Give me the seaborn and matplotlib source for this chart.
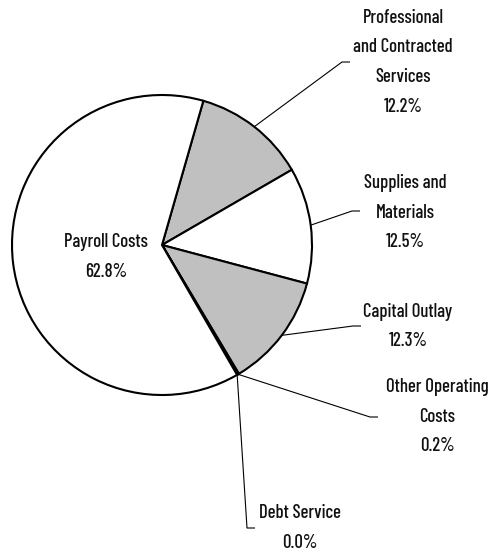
import matplotlib
matplotlib.use("Agg")
import matplotlib.pyplot as plt
import numpy as np
import seaborn as sns

# Expenditure shares (percent), clockwise from the top
categories = ["Professional\nand Contracted\nServices", "Supplies and\nMaterials",
              "Capital Outlay", "Other Operating\nCosts", "Debt Service", "Payroll Costs"]
shares = [12.2, 12.5, 12.3, 0.2, 0.0, 62.8]
fills = ["#c0c0c0", "#ffffff", "#c0c0c0", "#ffffff", "#ffffff", "#ffffff"]

sns.set_theme(style="white")
plt.rcParams["font.family"] = ["Barlow Condensed", "DejaVu Sans"]
plt.rcParams["font.weight"] = 500

W, H = 499, 552
fig = plt.figure(figsize=(W / 100, H / 100), dpi=100)
ax = fig.add_axes([0, 0, 1, 1])

cx, cy, r = 162, H - 245, 150
# a tiny positive value keeps the zero slice as a visible edge
draw_vals = [max(v, 0.02) for v in shares]
wedges, _ = ax.pie(draw_vals, colors=fills, startangle=74, counterclock=False,
                   radius=r, center=(cx, cy), frame=True,
                   wedgeprops=dict(edgecolor="black", linewidth=1.5))
ax.set_xlim(0, W)
ax.set_ylim(0, H)
ax.set_aspect("equal")
ax.axis("off")

# label layout: (bend point x, y), text centre x, first line y  (pixel rows from top)
layout = {
    0: ((342, 62), 403, 18),
    1: ((352, 211), 405, 183),
    2: ((353, 326), 408, 312),
    3: ((370, 417), 437, 387),
    4: ((247, 528), 300, 513),
}
line_gap = 29.5
fs = 13.5
txt_kw = dict(ha="center", va="center", fontsize=fs, color="#111111")

for i, w in enumerate(wedges):
    lines = categories[i].split("\n") + [f"{shares[i]:.1f}%"]
    if i in layout:
        (bx, by), tx, ty = layout[i]
        mid = np.deg2rad((w.theta1 + w.theta2) / 2)
        x0, y0 = cx + r * np.cos(mid), cy + r * np.sin(mid)
        ax.plot([x0, bx, bx + 8], [y0, H - by, H - by], color="black", lw=0.8,
                solid_capstyle="butt")
        for k, line in enumerate(lines):
            ax.text(tx, H - (ty + k * line_gap), line, **txt_kw)
    else:
        for k, line in enumerate(lines):
            ax.text(106, H - (242 + k * 30), line, **txt_kw)

fig.savefig("out.png", dpi=100, facecolor="white")
